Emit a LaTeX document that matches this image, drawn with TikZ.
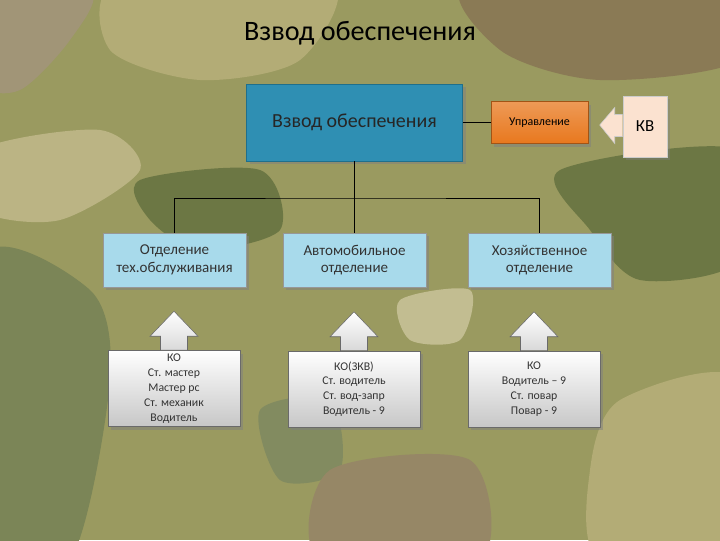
\documentclass[tikz,border=0pt]{standalone}
\usepackage{fontspec}
\setmainfont{Carlito}
\usetikzlibrary{calc,shadows}

\definecolor{camoBase}{HTML}{9A9A60}
\definecolor{camoLight}{HTML}{B3AC76}
\definecolor{camoDark}{HTML}{6C7744}
\definecolor{camoBrown}{HTML}{8A7A55}
\definecolor{tealBox}{HTML}{2F8FB3}
\definecolor{tealEdge}{HTML}{1F6F8C}
\definecolor{orangeBox}{HTML}{E8781E}
\definecolor{peachBox}{HTML}{FBE2D0}
\definecolor{skyBox}{HTML}{A8DAEB}
\definecolor{greyEdge}{HTML}{6A6A6A}

\begin{document}
\begin{tikzpicture}[
    x=0.025cm, y=-0.025cm,
    sz/.style 2 args={minimum width=#1*0.025cm, minimum height=#2*0.025cm, inner sep=1pt},
    unitbox/.style={rectangle, draw=tealEdge, fill=tealBox, text=black!85, align=center, drop shadow={opacity=0.5}},
    midbox/.style={rectangle, draw=greyEdge!70, fill=skyBox, text=black!80, align=center, font=\fontsize{10.7}{12.5}\selectfont, drop shadow={opacity=0.5}},
    crewbox/.style={rectangle, draw=greyEdge, top color=white, bottom color=black!22, text=black!80, align=center, font=\fontsize{8.4}{10.6}\selectfont, drop shadow={opacity=0.5}},
    blockarrow/.style={draw=greyEdge, top color=white, bottom color=black!15, line join=miter},
    link/.style={draw=black, line width=0.6pt}
]
    \useasboundingbox (0,0) rectangle (720,540);
    % Camouflage background
    \begin{scope}
        \clip (0,0) rectangle (720,540);
        \fill[camoBase] (0,0) rectangle (720,540);
        \fill[camoBrown!80] plot[smooth cycle] coordinates {(-20,-20) (90,-10) (70,40) (20,90) (-20,80)};
        \fill[camoLight] plot[smooth cycle] coordinates {(120,-20) (330,-20) (300,60) (200,80) (110,50)};
        \fill[camoBrown] plot[smooth cycle] coordinates {(470,-20) (740,-20) (740,60) (600,80) (500,50)};
        \fill[camoDark] plot[smooth cycle] coordinates {(140,180) (260,170) (280,230) (200,250) (150,220)};
        \fill[camoDark!90] plot[smooth cycle] coordinates {(-20,260) (90,290) (110,380) (70,560) (-20,560)};
        \fill[camoDark] plot[smooth cycle] coordinates {(560,170) (740,150) (740,260) (640,280) (590,230)};
        \fill[camoLight!90] plot[smooth cycle] coordinates {(-20,150) (100,130) (140,170) (60,220) (-20,210)};
        \fill[camoDark!85] plot[smooth cycle] coordinates {(260,410) (330,400) (340,470) (280,480)};
        \fill[camoBrown!90] plot[smooth cycle] coordinates {(330,470) (470,460) (480,560) (320,560)};
        \fill[camoLight] plot[smooth cycle] coordinates {(620,400) (740,380) (740,560) (600,560) (590,470)};
        \fill[camoLight!80] plot[smooth cycle] coordinates {(400,300) (470,290) (460,340) (410,340)};
    \end{scope}

    % Title
    \node[font=\fontsize{20}{24}\selectfont, text=black] (title) at (360,33) {Взвод обеспечения};

    % Top level
    \node[unitbox, sz={216}{77}, font=\fontsize{14.2}{17}\selectfont] (main) at (354.5,122.5) {Взвод обеспечения};
    \node[rectangle, draw=orangeBox!70!black, top color=orangeBox!75!white, bottom color=orangeBox, sz={97}{42},
          font=\fontsize{8.5}{10}\selectfont, drop shadow={opacity=0.5}] (upr) at (539.5,122.5) {Управление};
    \node[rectangle, draw=white!80!black, fill=peachBox, sz={44}{61},
          font=\fontsize{12}{14}\selectfont, drop shadow={opacity=0.4}] (kv) at (645,126.5) {КВ};

    % Departments
    \node[midbox, sz={143}{54}] (tech) at (174.5,260) {Отделение\\тех.обслуживания};
    \node[midbox, sz={143}{54}] (auto) at (354.5,260) {Автомобильное\\отделение};
    \node[midbox, sz={143}{54}] (supply) at (539.5,260) {Хозяйственное\\отделение};

    % Crews
    \node[crewbox, sz={132}{76}] (techcrew) at (174,388.5) {КО\\Ст. мастер\\Мастер рс\\Ст. механик\\Водитель};
    \node[crewbox, sz={132}{76}] (autocrew) at (354,389) {КО(ЗКВ)\\Ст. водитель\\Ст. вод-запр\\Водитель - 9};
    \node[crewbox, sz={132}{76}] (supplycrew) at (534,389) {КО\\Водитель – 9\\Ст. повар\\Повар - 9};

    % Links
    \coordinate (bus) at (354.5,198);
    \draw[link] (main.east) -- (upr.west);
    \draw[link] (main.south) -- (bus);
    \draw[link] (tech.north) |- (bus) -| (supply.north);
    \draw[link] (bus) -- (auto.north);

    % Block arrows
    \foreach \crew in {techcrew, autocrew, supplycrew} {
        \draw[blockarrow] ($(\crew.north)+(-13.5,0)$) -- ++(0,-14) -- ++(-10.5,0)
            -- ($(\crew.north)+(0,-39)$) -- ($(\crew.north)+(24,-14)$) -- ++(-10.5,0)
            -- ($(\crew.north)+(13.5,0)$) -- cycle;
    }
    \draw[draw=white!80!black, fill=peachBox, line join=miter] ($(kv.west)+(0,-12)$) -- ++(-8,0) -- ++(0,-7)
        -- ($(kv.west)+(-23,-1.5)$) -- ($(kv.west)+(-8,17)$) -- ++(0,-7) -- ($(kv.west)+(0,10)$);
\end{tikzpicture}
\end{document}
